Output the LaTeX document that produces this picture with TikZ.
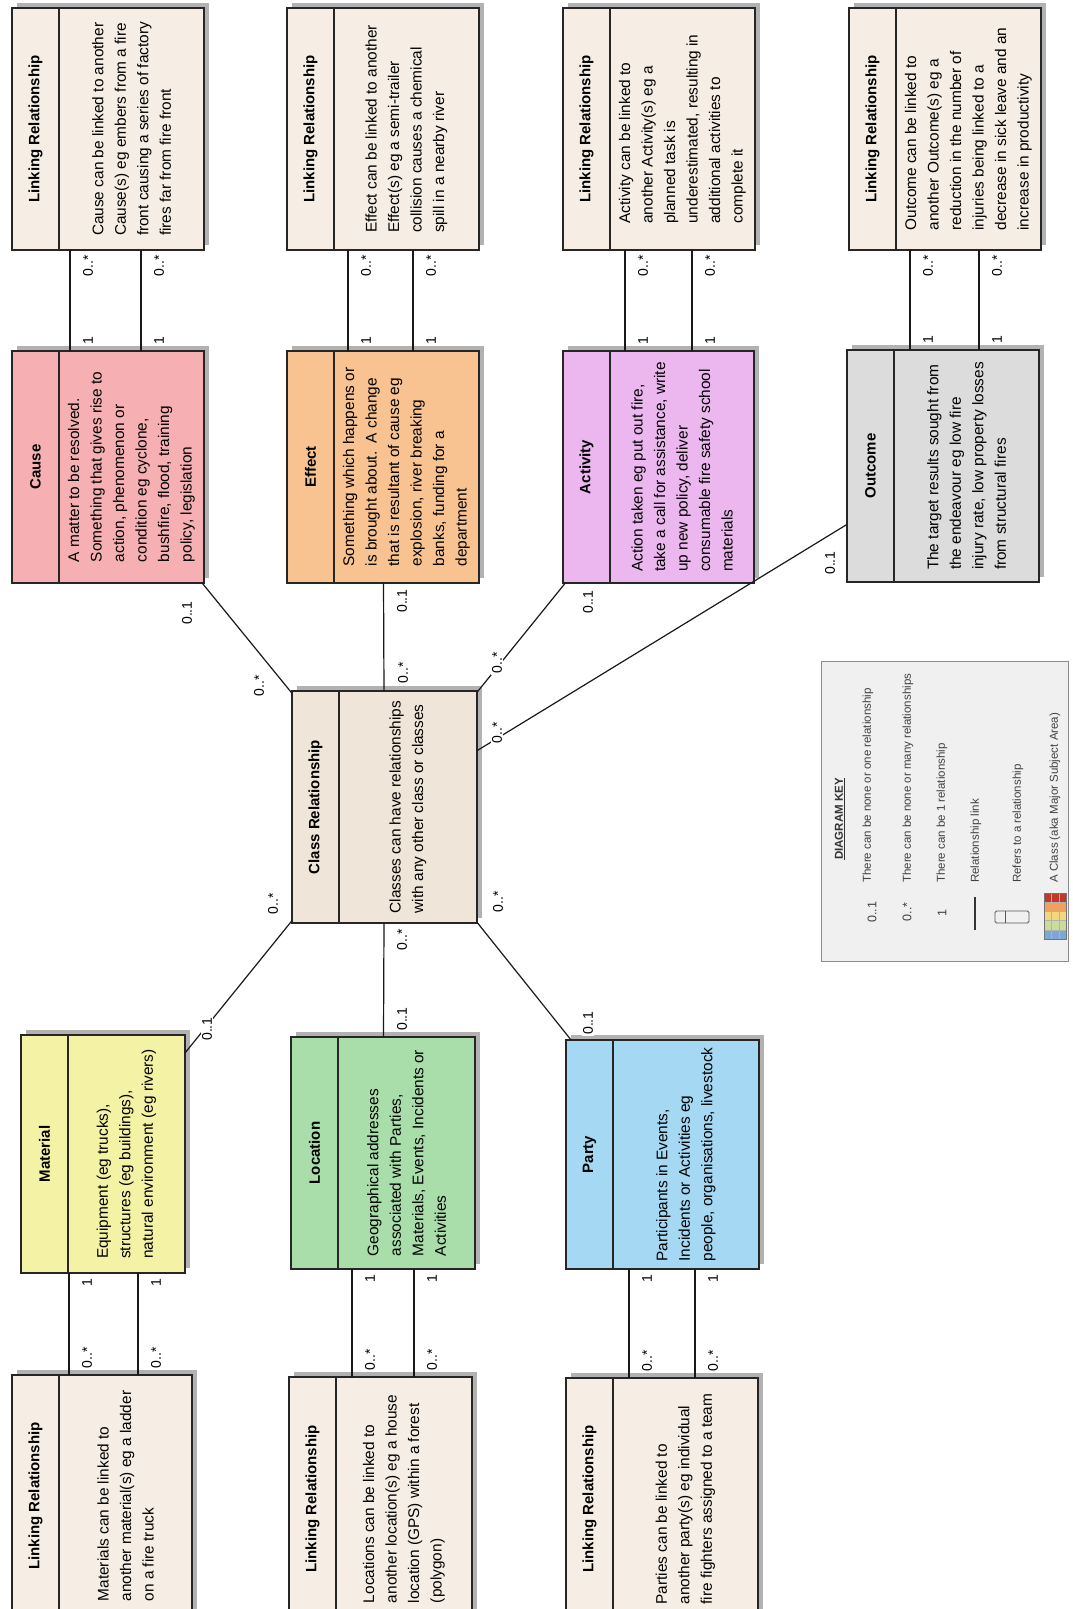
\documentclass[tikz,border=0pt]{standalone}
\usepackage{fontspec}
\setmainfont{Liberation Sans}
\usetikzlibrary{calc,shadows}

\definecolor{lrfill}{HTML}{F6EEE4}
\definecolor{causefill}{HTML}{F6B0B3}
\definecolor{effectfill}{HTML}{F8C391}
\definecolor{activityfill}{HTML}{ECB7EE}
\definecolor{outcomefill}{HTML}{DCDCDC}
\definecolor{classfill}{HTML}{EFE5D8}
\definecolor{materialfill}{HTML}{F4F2A4}
\definecolor{locationfill}{HTML}{A9DDAA}
\definecolor{partyfill}{HTML}{A4D8F3}
\definecolor{keyfill}{HTML}{F0F0F0}
\definecolor{keyred}{HTML}{C0392B}
\definecolor{keyorange}{HTML}{F0A060}
\definecolor{keyyellow}{HTML}{F2D780}
\definecolor{keygreen}{HTML}{C8DC9C}
\definecolor{keyblue}{HTML}{7FA7D6}

\tikzset{
  boxshape/.style={draw=black!85, line width=1.1pt, inner sep=0pt, outer sep=0pt,
    drop shadow={shadow xshift=5pt, shadow yshift=5pt, fill=black!30, opacity=1}},
  boxline/.style={draw=black!85, line width=1.1pt},
  titletext/.style={rotate=90, font=\bfseries\fontsize{15}{18}\selectfont, inner sep=0pt},
  bodytext/.style={rotate=90, align=left, font=\fontsize{15.4}{22.5}\selectfont, inner sep=0pt},
  relline/.style={line width=1.2pt, black!90},
  mult/.style={rotate=90, font=\fontsize{14}{16}\selectfont, fill=white, inner sep=1pt},
  keysym/.style={rotate=90, font=\fontsize{12.5}{14}\selectfont, text=black!75, inner sep=0pt},
  keytext/.style={rotate=90, anchor=west, font=\fontsize{11.5}{13}\selectfont, text=black!75, inner sep=0pt},
}

% name, x1, y1, x2, y2, fill, title, body
\newcommand{\umlclass}[8]{%
  \node[boxshape, fill=#6, minimum width={#4pt-#2pt}, minimum height={#5pt-#3pt}]
    (#1) at ({(#2+#4)/2}, {(#3+#5)/2}) {};
  \draw[boxline] ($(#1.north west)+(47,0)$) -- ($(#1.south west)+(47,0)$);
  \node[titletext] (#1-title) at ($(#1.west)+(23.5,0)$) {#7};
  \node[bodytext] (#1-body) at ($(#1.center)+(23.5,0)$) {#8};
}

\begin{document}
\begin{tikzpicture}[x=1pt, y=-1pt]
    \useasboundingbox (0,0) rectangle (1072,1609);
    \fill[white] (0,0) rectangle (1072,1609);
    \clip (0,0) rectangle (1072,1609);

    % Linking relationships, top row
    \umlclass{lrcause}{12}{8}{204}{250}{lrfill}{Linking Relationship}
      {Cause can be linked to another\\Cause(s) eg embers from a fire\\front causing a series of factory\\fires far from fire front}
    \umlclass{lreffect}{287}{8}{479}{250}{lrfill}{Linking Relationship}
      {Effect can be linked to another\\Effect(s) eg a semi-trailer\\collision causes a chemical\\spill in a nearby river}
    \umlclass{lractivity}{563}{8}{755}{250}{lrfill}{Linking Relationship}
      {Activity can be linked to\\another Activity(s) eg a\\planned task is\\underestimated, resulting in\\additional activities to\\complete it}
    \umlclass{lroutcome}{849}{8}{1041}{250}{lrfill}{Linking Relationship}
      {Outcome can be linked to\\another Outcome(s) eg a\\reduction in the number of\\injuries being linked to a\\decrease in sick leave and an\\increase in productivity}

    % Classes, top row
    \umlclass{cause}{12}{351}{204}{583}{causefill}{Cause}
      {A matter to be resolved.\\Something that gives rise to\\action, phenomenon or\\condition eg cyclone,\\bushfire, flood, training\\policy, legislation}
    \umlclass{effect}{287}{351}{479}{583}{effectfill}{Effect}
      {Something which happens or\\is brought about.\ \ A change\\that is resultant of cause eg\\explosion, river breaking\\banks, funding for a\\department}
    \umlclass{activity}{563}{351}{754}{583}{activityfill}{Activity}
      {Action taken eg put out fire,\\take a call for assistance, write\\up new policy, deliver\\consumable fire safety school\\materials}
    \umlclass{outcome}{847}{350}{1039}{582}{outcomefill}{Outcome}
      {The target results sought from\\the endeavour eg low fire\\injury rate, low property losses\\from structural fires}

    % Central class
    \umlclass{class}{292}{691}{477}{923}{classfill}{Class Relationship}
      {Classes can have relationships\\with any other class or classes}

    % Classes, bottom row
    \umlclass{material}{21}{1035}{185}{1273}{materialfill}{Material}
      {Equipment (eg trucks),\\structures (eg buildings),\\natural environment (eg rivers)}
    \umlclass{location}{291}{1037}{475}{1269}{locationfill}{Location}
      {Geographical addresses\\associated with Parties,\\Materials, Events, Incidents or\\Activities}
    \umlclass{party}{566}{1040}{759}{1269}{partyfill}{Party}
      {Participants in Events,\\Incidents or Activities eg\\people, organisations, livestock}

    % Linking relationships, bottom row
    \umlclass{lrmaterial}{12}{1375}{192}{1617}{lrfill}{Linking Relationship}
      {Materials can be linked to\\another material(s) eg a ladder\\on a fire truck}
    \umlclass{lrlocation}{289}{1377}{472}{1621}{lrfill}{Linking Relationship}
      {Locations can be linked to\\another location(s) eg a house\\location (GPS) within a forest\\(polygon)}
    \umlclass{lrparty}{566}{1378}{758}{1620}{lrfill}{Linking Relationship}
      {Parties can be linked to\\another party(s) eg individual\\fire fighters assigned to a team}

    % Class relationships
    \foreach \cls in {cause, effect, activity, outcome, material, location, party}
        \draw[relline] (\cls) -- (class);

    % Links to top linking relationships
    \foreach \cls/\xa/\xb in {cause/70/141, effect/348/413, activity/625/692, outcome/910/979} {
        \foreach \xl [count=\k] in {\xa,\xb} {
            \coordinate (\cls-c\k) at (\xl,0);
            \draw[relline] (\cls-c\k |- lr\cls.south) -- (\cls-c\k |- \cls.north);
            \node[mult] (\cls-many\k) at ($(\cls-c\k |- lr\cls.south)+(18,16)$) {0..*};
            \node[mult] (\cls-one\k) at ($(\cls-c\k |- \cls.north)+(18,-10)$) {1};
        }
    }

    % Links to bottom linking relationships
    \foreach \cls/\xa/\xb in {material/69/138, location/352/414, party/629/695} {
        \foreach \xl [count=\k] in {\xa,\xb} {
            \coordinate (\cls-c\k) at (\xl,0);
            \draw[relline] (\cls-c\k |- \cls.south) -- (\cls-c\k |- lr\cls.north);
            \node[mult] (\cls-one\k) at ($(\cls-c\k |- \cls.south)+(18,10)$) {1};
            \node[mult] (\cls-many\k) at ($(\cls-c\k |- lr\cls.north)+(18,-17)$) {0..*};
        }
    }

    % Multiplicities round the central class
    \foreach \x/\y/\t [count=\i] in {187/613/{0..1}, 259/686/{0..*}, 402/601/{0..1}, 403/673/{0..*},
        588/602/{0..1}, 497/663/{0..*}, 830/563/{0..1}, 497/733/{0..*},
        207/1029/{0..1}, 273/904/{0..*}, 402/940/{0..*}, 402/1019/{0..1},
        588/1023/{0..1}, 498/902/{0..*}}
        \node[mult] (mult\i) at (\x,\y) {\t};

    % Diagram key
    \node[draw=black!45, line width=1pt, fill=keyfill, minimum width=247pt, minimum height=300pt,
        inner sep=0pt] (key) at (944.5,811) {};
    \node[rotate=90, font=\bfseries\fontsize{11.5}{13}\selectfont, text=black!80, inner sep=0pt]
        (keytitle) at (840,819) {\underline{DIAGRAM KEY}};
    \node[keysym] (keysym1) at (872,912) {0..1};
    \node[keysym] (keysym2) at (907,912) {0..*};
    \node[keysym] (keysym3) at (942,913) {1};
    \draw[line width=1.2pt, black!80] (975,897) -- (975,930);
    \draw[black!65, line width=0.8pt, rounded corners=1.5pt] (995,911) rectangle (1029,923);
    \draw[black!65, line width=0.8pt] (1005,911) -- (1005,923);
    \foreach \c [count=\i] in {keyred, keyorange, keyyellow, keygreen, keyblue}
        \fill[\c] (1044,{893+(\i-1)*9.2}) rectangle (1066,{893+\i*9.2});
    \foreach \i in {1,...,4}
        \draw[white!70!black, line width=0.4pt] (1044,{893+\i*9.2}) -- (1066,{893+\i*9.2});
    \draw[white!70!black, line width=0.4pt] (1051.3,893) -- (1051.3,939) (1058.7,893) -- (1058.7,939);
    \draw[black!55, line width=0.6pt] (1044,893) rectangle (1066,939);
    \foreach \x/\t [count=\i] in {868/{There can be none or one relationship},
        908/{There can be none or many relationships}, 942/{There can be 1 relationship},
        976/{Relationship link}, 1018/{Refers to a relationship},
        1055/{A Class (aka Major Subject Area)}}
        \node[keytext] (keyrow\i) at (\x,883) {\t};
\end{tikzpicture}
\end{document}
